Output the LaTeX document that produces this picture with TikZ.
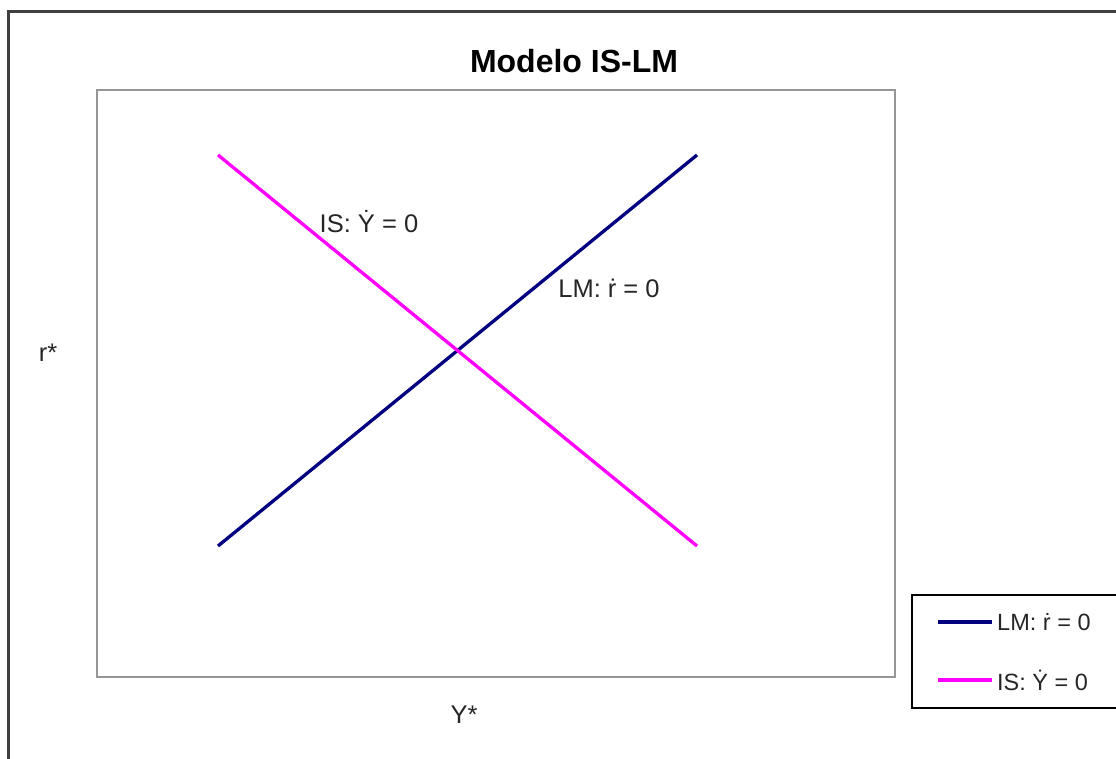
\documentclass[tikz,border=0pt]{standalone}
\usepackage{fontspec}
\setmainfont{Liberation Sans}
\definecolor{lmblue}{RGB}{0,0,128}
\definecolor{ismag}{RGB}{255,0,255}
\definecolor{framegray}{RGB}{64,64,64}
\definecolor{plotgray}{RGB}{150,150,150}
\tikzset{
  curve/.style={line width=3.3pt},
  lbl/.style={inner sep=0pt, font=\fontsize{25.5}{29}\selectfont, text=black!85},
  leglbl/.style={inner sep=0pt, anchor=west, font=\fontsize{23.5}{27}\selectfont, text=black!85},
}
\begin{document}
\begin{tikzpicture}[x=1pt,y=-1pt]
\useasboundingbox (0,0) rectangle (1116,759);
\fill[white] (0,0) rectangle (1116,759);
% outer chart frame
\draw[framegray, line width=3pt] (8,800) -- (8,12) -- (1130,12);
% plot area
\draw[plotgray, line width=2pt] (97,90) rectangle (895,677);
% title
\node[inner sep=0pt, font=\bfseries\fontsize{32}{36}\selectfont] (title) at (574,61) {Modelo IS-LM};
% curves
\coordinate (lmA) at (218,546);
\coordinate (lmB) at (697,155);
\coordinate (isA) at (218,155);
\coordinate (isB) at (697,546);
\draw[curve, lmblue] (lmA) -- (lmB);
\draw[curve, ismag] (isA) -- (isB);
% labels
\node[lbl] (islbl) at (369,222) {IS: Ẏ = 0};
\node[lbl] (lmlbl) at (609,288) {LM: ṙ = 0};
\node[lbl] (rax) at (48,353) {r*};
\node[lbl] (yax) at (464,715) {Y*};
% legend
\draw[black, line width=1.5pt] (912,595) rectangle (1120,708);
\coordinate (l1a) at (938,622);
\coordinate (l1b) at (992,622);
\coordinate (l2a) at (938,680);
\coordinate (l2b) at (992,680);
\draw[curve, lmblue] (l1a) -- (l1b);
\draw[curve, ismag] (l2a) -- (l2b);
\node[leglbl, xshift=5pt] (leg1) at (l1b) {LM: ṙ = 0};
\node[leglbl, xshift=5pt] (leg2) at (l2b) {IS: Ẏ = 0};
\end{tikzpicture}
\end{document}
